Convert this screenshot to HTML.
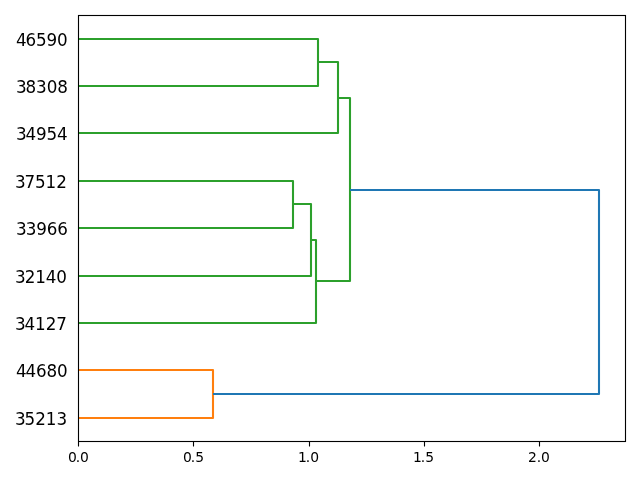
<!DOCTYPE html>
<html lang="en">
<head>
<meta charset="utf-8">
<title>Dendrogram</title>
<style>
html,body{margin:0;padding:0;background:#fff;}
body{width:640px;height:480px;overflow:hidden;}
svg{display:block;}
</style>
</head>
<body>
<svg width="640" height="480" viewBox="0 0 640 480">
<rect width="640" height="480" fill="#ffffff"/>
<g fill="none" stroke-width="2.0833" stroke-linejoin="round" stroke-linecap="butt">
<path d="M78 418 L213 418 L213 370 L78 370" stroke="#ff7f0e"/>
<path d="M78 228 L293 228 L293 181 L78 181" stroke="#2ca02c"/>
<path d="M78 276 L311 276 L311 204 L293 204" stroke="#2ca02c"/>
<path d="M78 323 L316 323 L316 240 L311 240" stroke="#2ca02c"/>
<path d="M78 86 L318 86 L318 39 L78 39" stroke="#2ca02c"/>
<path d="M78 133 L338 133 L338 62 L318 62" stroke="#2ca02c"/>
<path d="M316 281 L350 281 L350 98 L338 98" stroke="#2ca02c"/>
<path d="M213 394 L599 394 L599 190 L350 190" stroke="#1f77b4"/>
</g>
<g stroke="#000" stroke-width="1.1111" fill="none">
<path d="M78.5 441.5 V446.5"/>
<path d="M193.5 441.5 V446.5"/>
<path d="M309.5 441.5 V446.5"/>
<path d="M424.5 441.5 V446.5"/>
<path d="M539.5 441.5 V446.5"/>
<rect x="78.5" y="15.5" width="547" height="426" stroke-linejoin="miter"/>
</g>
<g font-family="'DejaVu Sans', 'Liberation Sans', sans-serif" fill="#000">
<g font-size="16.75px">
<text x="14.97 24.45 35.17 45.65 56.50" y="424.68">35213</text>
<text x="15.97 25.45 35.92 46.40 57.00" y="376.56">44680</text>
<text x="14.97 24.45 34.92 45.65 56.25" y="329.70">34127</text>
<text x="14.97 24.70 35.17 45.65 56.25" y="282.58">32140</text>
<text x="15.97 25.70 36.17 46.65 57.25" y="234.72">33966</text>
<text x="14.97 24.45 34.92 45.40 56.25" y="187.60">37512</text>
<text x="15.97 25.45 35.92 46.40 57.00" y="139.74">34954</text>
<text x="15.97 25.45 35.92 46.65 57.25" y="92.63">38308</text>
<text x="15.97 25.45 35.92 46.40 57.00" y="45.51">46590</text>
</g>
<g font-size="13.889px">
<text x="67.93 75.64 79.93" y="461.55">0.0</text>
<text x="182.98 190.68 195.23" y="461.55">0.5</text>
<text x="297.90 305.73 310.15" y="461.55">1.0</text>
<text x="412.94 420.65 425.19" y="461.55">1.5</text>
<text x="527.99 536.70 540.99" y="461.55">2.0</text>
</g>
</g>
</svg>
</body>
</html>
